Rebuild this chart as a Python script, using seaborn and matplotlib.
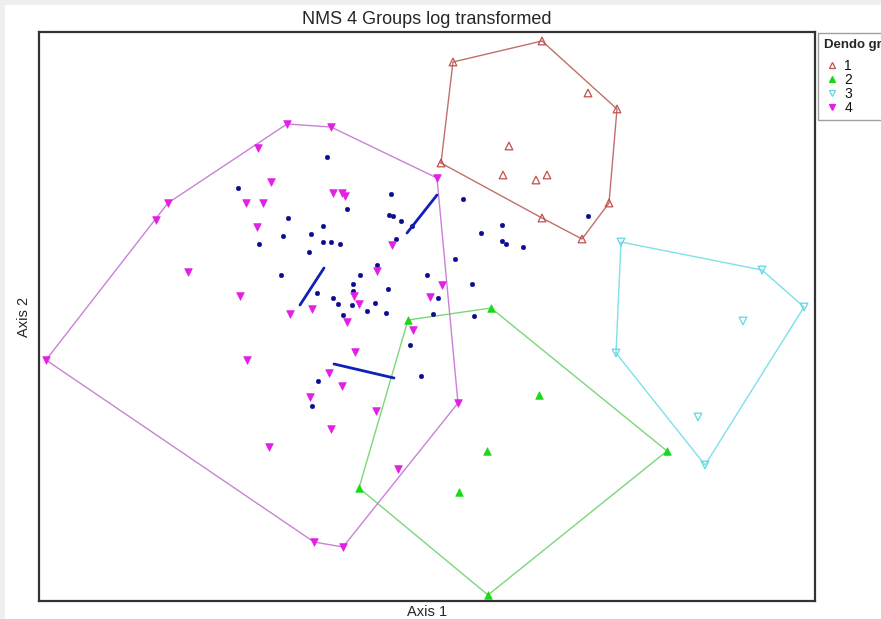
import matplotlib
matplotlib.use("Agg")
import matplotlib.pyplot as plt
import seaborn as sns
from matplotlib.lines import Line2D
from matplotlib.patches import Rectangle

# NMS ordination scores (Axis 1, Axis 2) for the four dendrogram groups
g1_x = [503, 414, 549, 578, 470, 402, 464, 497, 508, 570, 503, 543]
g1_y = [560, 539, 508, 492, 455, 438, 426, 421, 426, 398, 383, 362]

g2_x = [452, 369, 500, 448, 628, 320, 420, 449]
g2_y = [293, 281, 206, 150, 150, 113, 109, 6]

g3_x = [582, 723, 765, 704, 577, 659, 666]
g3_y = [359, 331, 294, 280, 248, 184, 136]

g4_x = [248, 292, 219, 232, 129, 207, 224, 117, 218, 149, 201, 7, 208,
        294, 303, 306, 398, 353, 338, 403, 315, 391, 320, 273, 251, 308,
        374, 316, 303, 419, 337, 359, 304, 290, 271, 292, 230, 275]
g4_y = [477, 474, 453, 419, 398, 398, 398, 381, 374, 329, 305, 241, 241,
        408, 408, 405, 423, 356, 330, 316, 305, 304, 297, 292, 287, 279,
        271, 249, 215, 198, 190, 132, 54, 228, 204, 172, 154, 59]

# species scores
sp_x = [288, 199, 352, 308, 350, 354, 362, 249, 284, 244, 272, 284, 292,
        301, 220, 270, 357, 424, 338, 242, 321, 314, 349, 278, 314, 416,
        388, 433, 399, 294, 299, 313, 336, 328, 347, 304, 394, 435, 442,
        463, 463, 467, 484, 549, 371, 382, 279, 273, 373]
sp_y = [444, 413, 407, 392, 386, 385, 380, 383, 375, 365, 367, 359, 359,
        357, 357, 349, 362, 402, 336, 326, 326, 317, 312, 308, 310, 342,
        326, 317, 303, 303, 297, 296, 298, 290, 288, 286, 287, 285, 368,
        376, 360, 357, 354, 385, 256, 225, 220, 195, 375]

# paired points joined by segments
seg_x0 = [398, 285, 295]
seg_y0 = [406, 333, 237]
seg_x1 = [368, 261, 355]
seg_y1 = [368, 296, 223]

group_labels = ["1", "2", "3", "4"]
marker_color = ["#c0504d", "#19d919", "#5fd8e6", "#e41ee4"]
hull_color = ["#c0706a", "#7ad87a", "#7ee0ea", "#cc80d8"]
markers = ["^", "^", "v", "v"]
filled = [False, True, False, True]


def convex_hull(xs, ys):
    pts = sorted(set(zip(xs, ys)))

    def cross(o, a, b):
        return (a[0] - o[0]) * (b[1] - o[1]) - (a[1] - o[1]) * (b[0] - o[0])

    lower, upper = [], []
    for p in pts:
        while len(lower) >= 2 and cross(lower[-2], lower[-1], p) <= 0:
            lower.pop()
        lower.append(p)
    for p in reversed(pts):
        while len(upper) >= 2 and cross(upper[-2], upper[-1], p) <= 0:
            upper.pop()
        upper.append(p)
    ring = lower[:-1] + upper[:-1]
    ring.append(ring[0])
    return [p[0] for p in ring], [p[1] for p in ring]


sns.set_theme(style="white")
plt.rcParams["font.family"] = ["Liberation Sans", "DejaVu Sans"]

fig = plt.figure(figsize=(8.81, 6.19), dpi=100)
fig.patch.set_facecolor("white")
fig.patches.append(Rectangle((0, 0), 5 / 881, 1, transform=fig.transFigure,
                             facecolor="#efefef", edgecolor="none", zorder=0))
fig.patches.append(Rectangle((0, 1 - 5 / 619), 1, 5 / 619, transform=fig.transFigure,
                             facecolor="#efefef", edgecolor="none", zorder=0))

ax = fig.add_axes([39 / 881, 18 / 619, 776 / 881, 569 / 619])
ax.set_xlim(0, 776)
ax.set_ylim(0, 569)

groups = [(g1_x, g1_y), (g2_x, g2_y), (g3_x, g3_y), (g4_x, g4_y)]

for i, (gx, gy) in enumerate(groups):
    hx, hy = convex_hull(gx, gy)
    ax.plot(hx, hy, color=hull_color[i], lw=1.0, zorder=2)

# species points and joining segments
sns.scatterplot(x=sp_x, y=sp_y, ax=ax, marker="o", s=11, color="#0c0c90",
                edgecolor="#0c0c90", linewidth=0.3, legend=False, zorder=3)
for x0, y0, x1, y1 in zip(seg_x0, seg_y0, seg_x1, seg_y1):
    ax.plot([x0, x1], [y0, y1], color="#1020b8", lw=2.0, zorder=3,
            solid_capstyle="round")

for i, (gx, gy) in enumerate(groups):
    if filled[i]:
        sns.scatterplot(x=gx, y=gy, ax=ax, marker=markers[i], s=30,
                        color=marker_color[i], edgecolor=marker_color[i],
                        linewidth=0.5, legend=False, zorder=4)
    else:
        sns.scatterplot(x=gx, y=gy, ax=ax, marker=markers[i], s=30,
                        color=marker_color[i], facecolor="none",
                        edgecolor=marker_color[i], linewidth=0.9,
                        legend=False, zorder=4)

ax.set_xticks([])
ax.set_yticks([])
for sp in ax.spines.values():
    sp.set_color("#333333")
    sp.set_linewidth(1.6)

ax.set_xlabel("Axis 1", fontsize=10.5, labelpad=3)
ax.set_ylabel("Axis 2", fontsize=10.5, labelpad=6)
ax.set_title("NMS 4 Groups log transformed", fontsize=13, pad=6)

handles = []
for i in range(4):
    handles.append(Line2D([], [], linestyle="", marker=markers[i], markersize=5,
                          markerfacecolor=marker_color[i] if filled[i] else "none",
                          markeredgecolor=marker_color[i], markeredgewidth=0.9))
leg = fig.legend(handles, group_labels, title="Dendo group", loc="upper left",
                 bbox_to_anchor=(818 / 881, 1 - 33 / 619), bbox_transform=fig.transFigure,
                 fontsize=10, title_fontproperties={"weight": "bold", "size": 9.5},
                 frameon=True, fancybox=False, borderaxespad=0, borderpad=0.4,
                 labelspacing=0.0, handlelength=1.2, handletextpad=0.3)
leg._legend_box.align = "left"
leg._legend_box.sep = 6
frame = leg.get_frame()
frame.set_edgecolor("#888888")
frame.set_linewidth(1.0)
for t in leg.get_texts():
    t.set_color("#111111")

fig.savefig("out.png", dpi=100)
